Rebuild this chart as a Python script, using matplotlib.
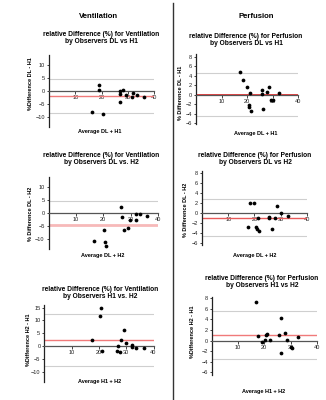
import matplotlib
matplotlib.use("Agg")
import matplotlib.pyplot as plt
from matplotlib.lines import Line2D

plt.rcParams['font.family'] = ['Liberation Sans', 'DejaVu Sans']

W, H = 326, 400

# ---- data ----
v1_x = [19.0, 19.0, 16.3, 20.4, 26.9, 27.0, 28.1, 27.1, 29.5, 32.0, 31.8, 33.5, 36.2]
v1_y = [2.3, 0.4, -8.2, -8.8, 0.1, -1.3, 0.4, -4.1, -1.5, -0.9, -2.3, -1.5, -2.3]
v1_mean, v1_loa = -2.0, [4.5, -8.5]

p1_x = [17.1, 18.3, 20.0, 21.2, 20.6, 20.6, 21.7, 25.8, 25.8, 26.1, 27.8, 28.6, 29.5, 30.1, 32.6]
p1_y = [4.7, 3.0, 1.6, 0.35, -2.1, -2.6, -3.4, 1.0, 0.2, -3.1, 0.6, 1.7, -1.1, -1.1, 0.3]
p1_mean, p1_loa = 0.0, [4.6, -4.5]

v2_x = [26.6, 26.8, 27.6, 29.1, 29.8, 32.1, 33.5, 32.0, 36.0, 16.6, 20.1, 20.5, 20.9]
v2_y = [2.3, -1.4, -6.4, -5.8, -2.6, -0.5, -0.5, -2.6, -1.2, -10.9, -6.7, -11.3, -12.6]
v2_mean, v2_loa = -4.5, [4.7]

p2_x = [18.2, 19.9, 17.5, 20.5, 20.8, 21.4, 21.8, 25.7, 25.7, 26.6, 27.8, 28.6, 30.0, 32.7]
p2_y = [2.0, 1.9, -2.8, -2.7, -3.1, -1.0, -3.6, -0.85, -1.05, -3.2, -1.0, 1.4, 0.1, -0.5]
p2_mean, p2_loa = -1.0, [2.8, -4.6]

v3_x = [20.6, 20.4, 17.4, 21.2, 28.2, 29.1, 29.9, 27.1, 26.6, 27.6, 32.3, 32.2, 33.7, 36.5]
v3_y = [14.7, 11.7, 2.5, -2.1, 2.5, 6.3, 1.3, 0.0, -1.8, -2.5, 0.4, -0.4, -0.8, -0.8]
v3_mean, v3_loa = 2.3, [12.5, -7.7]

p3_x = [16.7, 17.6, 19.2, 20.4, 20.8, 21.1, 22.0, 25.7, 26.3, 26.3, 28.0, 28.7, 30.1, 30.5, 32.9]
p3_y = [7.3, 0.9, -0.3, 0.2, 1.0, 1.25, 0.2, 1.1, 4.2, -2.3, 1.5, 0.1, -1.25, -1.4, 0.7]
p3_mean, p3_loa = 1.0, [5.6, -3.5]

x_ticks = [10, 20, 30, 40]

fig = plt.figure(figsize=(W / 100, H / 100), dpi=100)


def px_axes(left, right, top, bottom):
    return fig.add_axes([left / W, 1 - bottom / H, (right - left) / W, (bottom - top) / H])


def ftext(x, y, s, **kw):
    fig.text(x / W, 1 - y / H, s, **kw)


def panel(rect, ylim, yticks, xs, ys, mean, loa, mean_color, mean_lw):
    ax = px_axes(*rect)
    ax.set_xlim(0, 40)
    ax.set_ylim(*ylim)
    ax.patch.set_alpha(0)
    for s in ['top', 'right']:
        ax.spines[s].set_visible(False)
    ax.spines['bottom'].set_position(('data', 0))
    ax.spines['bottom'].set_color('#555555')
    ax.spines['bottom'].set_linewidth(0.9)
    ax.spines['left'].set_color('#222222')
    ax.spines['left'].set_linewidth(0.9)
    for y in loa:
        ax.plot([0, 40], [y, y], color='#cfcfcf', lw=0.8, zorder=1)
    ax.plot([0, 40], [mean, mean], color=mean_color, lw=mean_lw, zorder=2)
    ax.plot(xs, ys, 'o', color='black', ms=2.7, mec='none', zorder=3, clip_on=False)
    ax.set_xticks(x_ticks)
    ax.set_yticks(yticks)
    ax.tick_params(axis='both', labelsize=4.1, length=1.8, width=0.6, pad=1,
                   colors='#222222')
    return ax


panel((49, 154, 55, 127), (-14, 14), [-10, -5, 0, 5, 10], v1_x, v1_y, v1_mean, v1_loa, '#f07a7a', 1.0)
panel((196, 298, 54, 124), (-6.2, 8.6), [-6, -4, -2, 0, 2, 4, 6, 8], p1_x, p1_y, p1_mean, p1_loa, '#e02222', 1.2)
panel((48.5, 158, 177, 249), (-13.8, 13.8), [-10, -5, 0, 5, 10], v2_x, v2_y, v2_mean, v2_loa, '#f7b9b9', 2.0)
panel((202, 307, 171, 245), (-6.3, 8.3), [-6, -4, -2, 0, 2, 4, 6, 8], p2_x, p2_y, p2_mean, p2_loa, '#e85a5a', 1.0)
panel((44.3, 153.5, 305, 382), (-14, 16), [-10, -5, 0, 5, 10, 15], v3_x, v3_y, v3_mean, v3_loa, '#f07a7a', 1.0)
panel((211.7, 317, 296.7, 375), (-6.5, 8.3), [-6, -4, -2, 0, 2, 4, 6, 8], p3_x, p3_y, p3_mean, p3_loa, '#f07a7a', 1.0)

# column headers
ftext(99, 16, 'Ventilation', ha='center', va='center', fontsize=5.6, fontweight='bold')
ftext(256, 16, 'Perfusion', ha='center', va='center', fontsize=5.6, fontweight='bold')

tkw = dict(ha='center', va='center', fontsize=4.8, fontweight='bold', linespacing=1.05)
ftext(101, 38, 'relative Difference (%) for Ventilation\nby Observers DL vs H1', **tkw)
ftext(246, 40, 'relative Difference (%) for Perfusion\nby Observers DL vs H1', **tkw)
ftext(101, 159, 'relative Difference (%) for Ventilation\nby Observers DL vs. H2', **tkw)
ftext(255, 159, 'relative Difference (%) for Perfusion\nby Observers DL vs H2', **tkw)
ftext(100, 293, 'relative Difference (%) for Ventilation\nby Observers H1 vs. H2', **tkw)
ftext(262, 282, 'relative Difference (%) for Perfusion\nby Observers H1 vs H2', **tkw)

lkw = dict(ha='center', va='center', fontsize=4.0, fontweight='bold')
ftext(31, 84, '%Difference DL - H1', rotation=90, **lkw)
ftext(181, 93, '% Difference DL - H1', rotation=90, **lkw)
ftext(31, 214, '% Difference DL - H2', rotation=90, **lkw)
ftext(185, 210, '% Difference DL - H2', rotation=90, **lkw)
ftext(28, 340, '%Difference H2 - H1', rotation=90, **lkw)
ftext(192, 332, '%Difference H2 - H1', rotation=90, **lkw)

ftext(100, 132, 'Average DL + H1', **lkw)
ftext(256, 133, 'Average DL + H1', **lkw)
ftext(103, 256, 'Average DL + H2', **lkw)
ftext(255, 256, 'Average DL + H2', **lkw)
ftext(100, 382, 'Average H1 + H2', **lkw)
ftext(264, 392, 'Average H1 + H2', **lkw)

# column divider
fig.add_artist(Line2D([173 / W, 173 / W], [1 - 3 / H, 0], color='#333333', lw=1.0))

fig.savefig('out.png', dpi=100)
